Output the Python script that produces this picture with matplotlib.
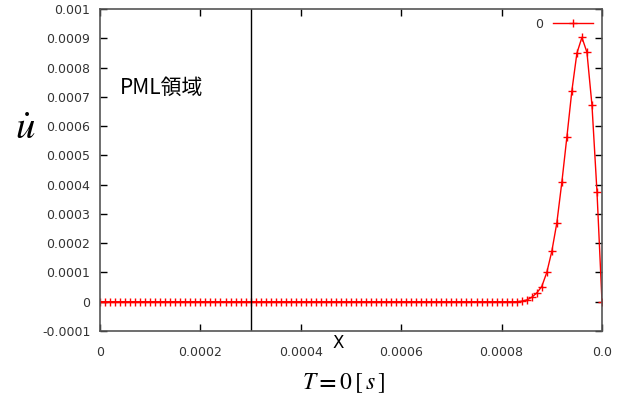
import numpy as np
import matplotlib.pyplot as plt

# sample positions along x (step 1e-5) and the velocity
x = np.round(np.arange(0, 101) * 1e-5, 8)
u_flat = [0.0] * 84  # flat part, x = 0 .. 0.00083
u_pulse = [2e-6, 6e-6, 1.5e-5, 3.0e-5, 5.2e-5, 1.0e-4, 1.72e-4, 2.69e-4,
           4.08e-4, 5.62e-4, 7.21e-4, 8.49e-4, 9.03e-4, 8.52e-4, 6.72e-4,
           3.76e-4, 0.0]
u = u_flat + u_pulse

pml_edge = 0.0003
xticks = [0, 0.0002, 0.0004, 0.0006, 0.0008, 0.001]
xtick_labels = ['0', '0.0002', '0.0004', '0.0006', '0.0008', '0.0']
yticks = [-0.0001, 0, 0.0001, 0.0002, 0.0003, 0.0004, 0.0005,
          0.0006, 0.0007, 0.0008, 0.0009, 0.001]
ytick_labels = ['-0.0001', '0', '0.0001', '0.0002', '0.0003', '0.0004',
                '0.0005', '0.0006', '0.0007', '0.0008', '0.0009', '0.001']

fig = plt.figure(figsize=(6.17, 4.03), dpi=100)
ax = fig.add_axes([100 / 617, 72 / 403, 502 / 617, 322 / 403])

ax.plot(x, u, color='red', lw=1, marker='+', markersize=6, mew=1, label='0')
ax.axvline(pml_edge, color='black', lw=1)

ax.set_xlim(0, 0.001)
ax.set_ylim(-0.0001, 0.001)
ax.set_xticks(xticks)
ax.set_xticklabels(xtick_labels)
ax.set_yticks(yticks)
ax.set_yticklabels(ytick_labels)
ax.tick_params(direction='in', length=5, width=1, top=True, right=True,
               labelsize=9, labelcolor='#333333')
ax.tick_params(axis='x', pad=11)
ax.tick_params(axis='y', pad=7)
for s in ax.spines.values():
    s.set_color('#555555')
    s.set_linewidth(1.2)

fig.text(338 / 617, 1 - 343 / 403, 'X', fontsize=12, ha='center', va='center')
fig.text(25 / 617, 1 - 128 / 403, r'$\dot{u}$', fontsize=28,
         ha='center', va='center', math_fontfamily='stix')
fig.text(343 / 617, 1 - 383 / 403, r'$T\mathbf{=}0\,[\,s\,]$', fontsize=17,
         ha='center', va='center', math_fontfamily='stix')
ax.text(0.00004, 0.00073, 'PML領域', fontsize=15,
        family=['Noto Sans CJK JP', 'DejaVu Sans'], va='center', ha='left')

leg = ax.legend(loc='upper right', frameon=False, fontsize=9, markerfirst=False,
                handlelength=3.2, borderaxespad=0.3)
for t in leg.get_texts():
    t.set_color('#333333')

fig.savefig('out.png', dpi=100)
